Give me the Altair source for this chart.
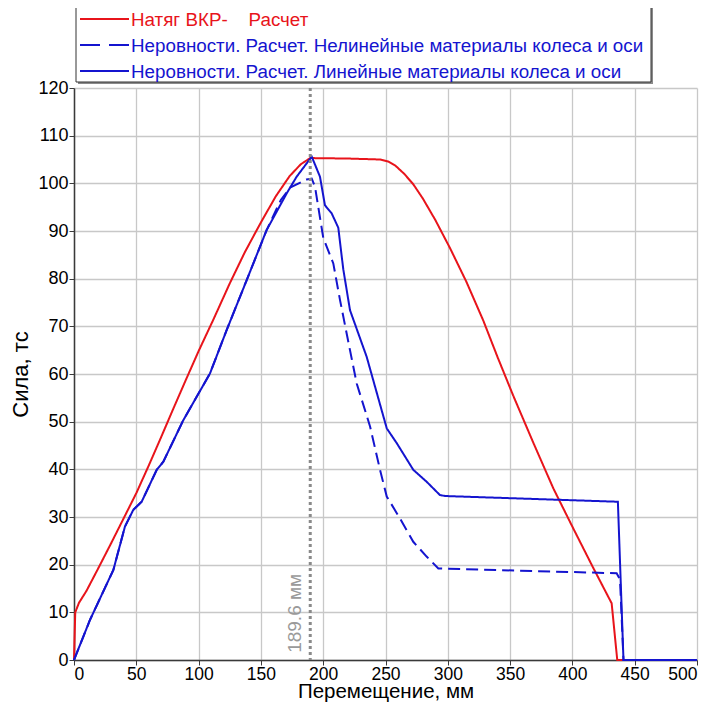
import altair as alt
import pandas as pd

# ---------------- data ----------------
red_x = [0, 1, 4, 10, 20, 30, 40, 50, 60, 70, 80, 90, 100, 112, 125, 137, 150, 162, 173, 182, 189.6,
         220, 245.6, 252, 258, 265, 272.3, 280, 290, 301.8, 315, 328.5, 340, 352.6, 368.6, 384.7,
         400.7, 416, 431.5, 436, 500]
red_y = [0, 10, 12, 14.5, 19.5, 24.6, 29.8, 35, 40.8, 46.8, 52.9, 58.9, 64.8, 71.5, 79, 85.5, 91.8,
         97.3, 101.5, 104, 105.3, 105.2, 105.0, 104.6, 103.7, 102, 99.8, 96.8, 92.3, 86.4, 79.3, 71.2,
         63.5, 55.4, 45.6, 36, 27.6, 19.7, 11.9, 0, 0]

lin_x = [0, 12.8, 31.6, 40.9, 47.6, 54.3, 66.4, 71.7, 87.7, 109.1, 122.5, 138.6, 154.6, 170.7, 178.7,
         190.8, 197.4, 201.4, 206.8, 212.1, 216.1, 221.5, 234.9, 251, 259, 272.3, 283, 293.7,
         298, 436.5, 441, 500]
lin_y = [0, 8.4, 18.9, 28, 31.5, 33.2, 39.9, 41.6, 50.3, 60.1, 69.2, 79.7, 90.2, 97.9, 101.4,
         105.6, 101.4, 95.4, 93.7, 90.7, 82, 73.4, 63.6, 48.6, 45.5, 39.9, 37.4, 34.6,
         34.4, 33.2, 0, 0]

nl_x = [0, 12.8, 31.6, 40.9, 47.6, 54.3, 66.4, 71.7, 87.7, 109.1, 122.5, 138.6, 154.6, 166, 173.4,
        186.7, 190.8, 193.4, 200.1, 208.1, 213.5, 221.5, 226.9, 237.6, 245.6, 251, 261.6, 272.3, 283,
        292.4, 435.5, 438.2, 441, 500]
nl_y = [0, 8.4, 18.9, 28, 31.5, 33.2, 39.9, 41.6, 50.3, 60.1, 69.2, 79.7, 90.2, 96.5, 99.1,
        100.8, 101, 99.3, 88.5, 83.2, 75.5, 65, 58, 49, 39.9, 34.3, 29.7, 24.8, 21.7,
        19.2, 18.2, 16.9, 0, 0]

series_names = [
    "Натяг ВКР-\u00a0\u00a0\u00a0 Расчет",
    "Неровности. Расчет. Нелинейные материалы колеса и оси",
    "Неровности. Расчет. Линейные материалы колеса и оси",
]
series_colors = ["#e8141b", "#1414cf", "#1414cf"]
series_dashes = [[1, 0], [12, 6], [1, 0]]

marker_x = 189.6
marker_label = "189.6 мм"

x_title = "Перемещение, мм"
y_title = "Сила, тс"

x_ticks = list(range(0, 501, 25))
y_ticks = list(range(0, 121, 5))

# ---------------- chart ----------------
W, H = 623, 572
FONT = "Liberation Sans"

x_scale = alt.Scale(domain=[0, 500], nice=False, zero=False)
y_scale = alt.Scale(domain=[0, 120], nice=False)

x_axis = alt.Axis(
    values=x_ticks,
    labelExpr="datum.value % 50 === 0 ? datum.label : ''",
    grid=True,
    gridDash={"condition": {"test": "datum.value % 50 !== 0", "value": [2, 3]}, "value": [1, 0]},
    gridColor={"condition": {"test": "datum.value % 50 !== 0", "value": "#c4c4c4"}, "value": "#c8c8c8"},
    gridWidth={"condition": {"test": "datum.value % 50 !== 0", "value": 1}, "value": 1.3},
    tickOpacity={"condition": {"test": "datum.value % 50 !== 0", "value": 0}, "value": 1},
    tickSize=5,
    labelPadding=0,
    labelFontSize=17.5,
    titleY=37,
    titleBaseline="alphabetic",
    titleFontSize=20.5,
)
y_axis = alt.Axis(
    values=y_ticks,
    labelExpr="datum.value % 10 === 0 ? datum.label : ''",
    grid=True,
    gridDash={"condition": {"test": "datum.value % 10 !== 0", "value": [2, 3]}, "value": [1, 0]},
    gridColor={"condition": {"test": "datum.value % 10 !== 0", "value": "#c4c4c4"}, "value": "#c8c8c8"},
    gridWidth={"condition": {"test": "datum.value % 10 !== 0", "value": 1}, "value": 1.3},
    tickOpacity={"condition": {"test": "datum.value % 10 !== 0", "value": 0}, "value": 1},
    tickSize=5,
    labelPadding=1,
    titlePadding=5,
)


def series_layer(xs, ys, i):
    d = pd.DataFrame({"x": xs, "y": ys, "order": list(range(len(xs)))})
    return alt.Chart(d).mark_line(
        color=series_colors[i], strokeWidth=2, strokeDash=series_dashes[i], interpolate="linear"
    ).encode(
        x=alt.X("x:Q", scale=x_scale, axis=x_axis, title=x_title),
        y=alt.Y("y:Q", scale=y_scale, axis=y_axis, title=y_title),
        order="order:Q",
    )


red = series_layer(red_x, red_y, 0)
nonlin = series_layer(nl_x, nl_y, 1)
lin = series_layer(lin_x, lin_y, 2)

mk = pd.DataFrame({"x": [marker_x], "y": [1.5], "label": [marker_label]})
vrule = alt.Chart(mk).mark_rule(color="#8a8a8a", strokeWidth=3, strokeDash=[3, 3]).encode(x="x:Q")
vlabel = alt.Chart(mk).mark_text(
    angle=270, align="left", baseline="alphabetic", dy=-9, fontSize=19, color="#9a9a9a", font=FONT
).encode(x="x:Q", y="y:Q", text="label:N")

# ---------------- manual legend (pixel positions relative to plot area) ----------------
one = pd.DataFrame({"a": [0]})
leg_shadow = alt.Chart(one).mark_rect(fill="#8a8a8a").encode(
    x=alt.value(4), x2=alt.value(579), y=alt.value(-81), y2=alt.value(-4))
leg_box = alt.Chart(one).mark_rect(fill="white", stroke="#333333", strokeWidth=1).encode(
    x=alt.value(2), x2=alt.value(577), y=alt.value(-83), y2=alt.value(-6))

leg_layers = [leg_shadow, leg_box]
row_y = [-69, -43, -17]
for i, name in enumerate(series_names):
    ld = pd.DataFrame({"name": [name]})
    leg_layers.append(
        alt.Chart(ld).mark_rule(color=series_colors[i], strokeWidth=2,
                                strokeDash=[20, 9] if i == 1 else [1, 0]).encode(
            x=alt.value(6), x2=alt.value(55), y=alt.value(row_y[i]))
    )
    leg_layers.append(
        alt.Chart(ld).mark_text(align="left", baseline="middle", fontSize=18.8, font=FONT,
                                color=series_colors[i]).encode(
            x=alt.value(57), y=alt.value(row_y[i] + 1), text="name:N")
    )

chart = alt.layer(red, nonlin, lin, vrule, vlabel, *leg_layers).properties(
    width=W, height=H, autosize="none",
    padding={"left": 66, "top": 80, "right": 15, "bottom": 42},
).configure_view(stroke=None).configure_axis(
    labelFont=FONT, titleFont=FONT, labelFontSize=18, titleFontSize=22,
    labelColor="#000000", titleColor="#000000", titleFontWeight="normal",
    domainColor="#3a3a3a", domainWidth=1.5, tickColor="#3a3a3a",
)

chart.save("out.html", embed_options={"renderer": "svg", "actions": False})
